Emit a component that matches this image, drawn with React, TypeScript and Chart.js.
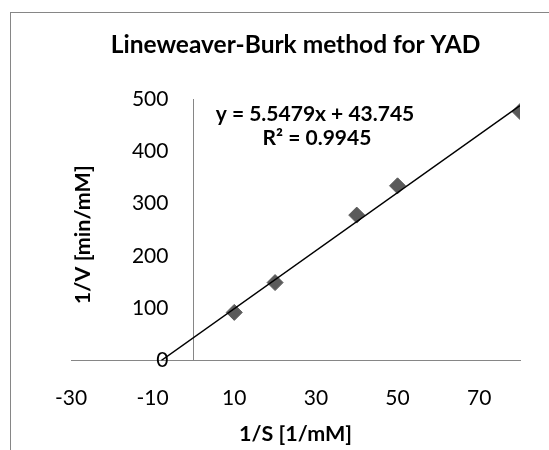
import React, { useEffect, useRef } from "react";
import { Chart, registerables } from "chart.js";

Chart.register(...registerables);

// ---- data ----
const chartTitle = "Lineweaver-Burk method for YAD";
const xAxisTitle = "1/S [1/mM]";
const yAxisTitle = "1/V [min/mM]";
const invS = [10, 20, 40, 50, 80];
const invV = [92, 149, 278, 334, 476];
const xTickValues = [-30, -10, 10, 30, 50, 70];
const xMin = -30;
const xMax = 80;
const yMin = 0;
const yMax = 500;
const yStep = 100;
const yAxisCrossX = 0;
const trendSlope = 5.5479;
const trendIntercept = 43.745;
const rSquared = 0.9945;
const trendEndX = 80;

// ---- layout / style ----
const CANVAS_W = 549;
const CANVAS_H = 450;
const PAD_LEFT = 71;
const PAD_RIGHT = 29;
const Y_LABEL_GAP = 25;
const FONT = "Lato, 'Open Sans', sans-serif";
const AXIS_GRAY = "#868686";

const decorPlugin = {
  id: "decor",
  beforeDraw(chart: any) {
    const ctx = chart.ctx;
    ctx.save();
    ctx.strokeStyle = AXIS_GRAY;
    ctx.lineWidth = 1;
    ctx.strokeRect(10.5, 12.5, 800, 800);
    ctx.restore();
  },
  afterDraw(chart: any) {
    const ctx = chart.ctx;
    const area = chart.chartArea;
    ctx.save();
    ctx.fillStyle = "#000";
    ctx.textAlign = "center";
    ctx.textBaseline = "middle";
    ctx.font = `bold 21px ${FONT}`;
    ctx.fillText(`y = ${trendSlope}x + ${trendIntercept}`, 315, 114);
    ctx.fillText(`R² = ${rSquared}`, 317, 138);
    // y axis title
    ctx.font = `bold 21.5px ${FONT}`;
    ctx.translate(83, (area.top + area.bottom) / 2 + 5);
    ctx.rotate(-Math.PI / 2);
    ctx.fillText(yAxisTitle, 0, 0);
    ctx.restore();
  },
};

export default function App() {
  const ref = useRef<HTMLCanvasElement | null>(null);

  useEffect(() => {
    if (!ref.current) return;
    const trendStartX = -trendIntercept / trendSlope;
    const points = invS.map((x, i) => ({ x, y: invV[i] }));
    const trend = [trendStartX, trendEndX].map((x) => ({
      x,
      y: trendSlope * x + trendIntercept,
    }));
    const plotWidth = CANVAS_W - PAD_LEFT - PAD_RIGHT;
    const yLabelAnchor = yAxisCrossX - (Y_LABEL_GAP * (xMax - xMin)) / plotWidth;

    const chart = new Chart(ref.current, {
      type: "scatter",
      data: {
        datasets: [
          {
            type: "line",
            label: "Linear trend",
            data: trend,
            borderColor: "#000",
            borderWidth: 1.5,
            pointRadius: 0,
            fill: false,
          } as any,
          {
            label: "1/V",
            data: points,
            pointStyle: "rectRot",
            pointRadius: 8,
            pointHoverRadius: 8,
            backgroundColor: "#5a5a5a",
            borderColor: "#5a5a5a",
            borderWidth: 1,
          },
        ],
      },
      options: {
        responsive: false,
        maintainAspectRatio: false,
        animation: false,
        layout: { padding: { left: PAD_LEFT, right: PAD_RIGHT, top: 0, bottom: 2.6 } },
        plugins: {
          legend: { display: false },
          tooltip: { enabled: false },
          title: {
            display: true,
            text: chartTitle,
            color: "#000",
            font: { family: FONT, size: 24.5, weight: "bold" },
            padding: { top: 30.3, bottom: 39.3 },
          },
        },
        scales: {
          x: {
            type: "linear",
            position: "bottom",
            min: xMin,
            max: xMax,
            afterBuildTicks: (scale: any) => {
              scale.ticks = [...xTickValues, yAxisCrossX]
                .sort((a, b) => a - b)
                .map((v) => ({ value: v }));
            },
            grid: {
              display: true,
              drawOnChartArea: true,
              drawTicks: false,
              lineWidth: 1,
              color: (c: any) =>
                c.tick && c.tick.value === yAxisCrossX ? AXIS_GRAY : "rgba(0,0,0,0)",
            },
            border: { display: true, color: AXIS_GRAY, width: 1 },
            ticks: {
              color: "#000",
              padding: 25,
              maxRotation: 0,
              autoSkip: false,
              font: { family: FONT, size: 21 },
              callback: (v: any) =>
                xTickValues.includes(Number(v)) ? String(v) : "",
            },
            title: {
              display: true,
              text: xAxisTitle,
              color: "#000",
              font: { family: FONT, size: 21.5, weight: "bold" },
              padding: { top: -14.1, bottom: 0 },
            },
          },
          y: {
            type: "linear",
            position: { x: yLabelAnchor } as any,
            min: yMin,
            max: yMax,
            ticks: {
              stepSize: yStep,
              color: "#000",
              padding: 0,
              font: { family: FONT, size: 21 },
            },
            grid: { display: false, drawTicks: false },
            border: { display: false },
          },
        },
      },
      plugins: [decorPlugin],
    } as any);

    return () => chart.destroy();
  }, []);

  return (
    <div
      style={{
        position: "fixed",
        left: 0,
        top: 0,
        width: CANVAS_W,
        height: CANVAS_H,
        overflow: "hidden",
        background: "#fff",
      }}
    >
      <canvas ref={ref} width={CANVAS_W} height={CANVAS_H} />
    </div>
  );
}
